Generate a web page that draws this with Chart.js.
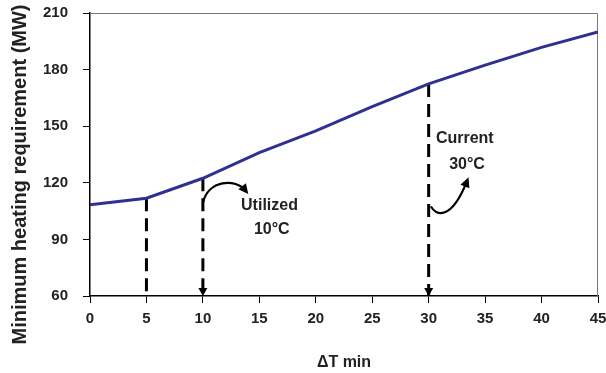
<!DOCTYPE html>
<html>
<head>
<meta charset="utf-8">
<script src="https://cdn.jsdelivr.net/npm/chart.js@4.4.0/dist/chart.umd.min.js"></script>
<style>
  html, body { margin: 0; padding: 0; background: #fff; }
  #wrap { width: 606px; height: 373px; }
</style>
</head>
<body>
<div id="wrap"><canvas id="chart"></canvas></div>
<script>
// ΔT min (x) and minimum heating requirement in MW (y)
const deltaT = [0, 5, 10, 15, 20, 25, 30, 35, 40, 45];
const heating = [108.3, 111.8, 122.4, 136, 147.5, 160.4, 172.4, 182.4, 191.8, 200];

// dashed drop lines from the curve down to the x axis
const dropX = [5, 10, 30];
const dropTop = [111.8, 122.4, 172.4];
const dropArrow = [false, true, true];

// axis ranges
const xRange = [0, 45];
const yRange = [60, 210];

const FONT = "'Liberation Sans', Arial, sans-serif";
const INK = '#222';

const datasets = [{
    data: deltaT.map((x, i) => ({ x: x, y: heating[i] })),
    borderColor: '#2e3192',
    borderWidth: 3,
    pointRadius: 0,
    tension: 0,
    order: 0
}];

dropX.forEach((x, i) => {
    datasets.push({
        data: [{ x: x, y: dropTop[i] }, { x: x, y: yRange[0] }],
        borderColor: '#000',
        borderWidth: 3,
        borderDash: [13, 7],
        pointRadius: 0,
        order: 1
    });
});

// frame on top/right, arrowheads on the drop lines, notes with curved arrows
const extras = {
    id: 'extras',
    beforeDatasetsDraw(chart) {
        const { ctx, chartArea: a } = chart;
        ctx.save();
        ctx.strokeStyle = '#777';
        ctx.lineWidth = 1;
        ctx.beginPath();
        ctx.moveTo(a.left, a.top + 0.5);
        ctx.lineTo(a.right - 0.5, a.top + 0.5);
        ctx.lineTo(a.right - 0.5, a.bottom);
        ctx.stroke();

        // y axis title, sits a bit below the middle of the axis in the original
        ctx.fillStyle = INK;
        ctx.font = 'bold 20px ' + FONT;
        ctx.textAlign = 'center';
        ctx.textBaseline = 'middle';
        ctx.translate(20, (a.top + a.bottom) / 2 + 20);
        ctx.rotate(-Math.PI / 2);
        ctx.fillText('Minimum heating requirement (MW)', 0, 0);
        ctx.restore();
    },
    afterDatasetsDraw(chart) {
        const { ctx, scales: { x, y } } = chart;
        const px = v => x.getPixelForValue(v);
        const py = v => y.getPixelForValue(v);
        ctx.save();
        ctx.fillStyle = '#000';

        // arrow tips on the axis
        dropX.forEach((v, i) => {
            if (!dropArrow[i]) return;
            const cx = px(v), by = py(yRange[0]);
            ctx.beginPath();
            ctx.moveTo(cx, by);
            ctx.lineTo(cx - 4.5, by - 8);
            ctx.lineTo(cx + 4.5, by - 8);
            ctx.closePath();
            ctx.fill();
        });

        function curvedArrow(p) {
            const pts = p.map(q => [px(q[0]), py(q[1])]);
            ctx.strokeStyle = '#000';
            ctx.lineWidth = 2.2;
            ctx.beginPath();
            ctx.moveTo(pts[0][0], pts[0][1]);
            ctx.bezierCurveTo(pts[1][0], pts[1][1], pts[2][0], pts[2][1], pts[3][0], pts[3][1]);
            ctx.stroke();
            const ang = Math.atan2(pts[3][1] - pts[2][1], pts[3][0] - pts[2][0]);
            const tx = pts[3][0] + Math.cos(ang) * 4, ty = pts[3][1] + Math.sin(ang) * 4;
            ctx.beginPath();
            ctx.moveTo(tx, ty);
            ctx.lineTo(tx - Math.cos(ang - 0.45) * 11, ty - Math.sin(ang - 0.45) * 11);
            ctx.lineTo(tx - Math.cos(ang + 0.45) * 11, ty - Math.sin(ang + 0.45) * 11);
            ctx.closePath();
            ctx.fill();
        }
        curvedArrow([[10, 109.3], [10.45, 121.5], [12.9, 122.6], [13.8, 115.7]]);
        curvedArrow([[30.2, 107.5], [30.6, 102.6], [32, 99.5], [33.4, 121]]);

        ctx.fillStyle = INK;
        ctx.font = 'bold 16px ' + FONT;
        ctx.textAlign = 'center';
        ctx.textBaseline = 'middle';
        ctx.fillText('Utilized', px(15.9), py(107.7));
        ctx.fillText('10°C', px(16.1), py(95));
        ctx.fillText('Current', px(33.2), py(143.2));
        ctx.fillText('30°C', px(33.4), py(129.5));
        ctx.restore();
    }
};

const tickFont = { family: FONT, size: 15, weight: 'bold' };

new Chart(document.getElementById('chart'), {
    type: 'line',
    data: { datasets: datasets },
    plugins: [extras],
    options: {
        responsive: true,
        maintainAspectRatio: false,
        animation: false,
        layout: { padding: { top: 13, right: 8, left: 0, bottom: 0 } },
        plugins: {
            legend: { display: false },
            tooltip: { enabled: false }
        },
        scales: {
            x: {
                type: 'linear',
                min: xRange[0],
                max: xRange[1],
                afterFit: s => { s.height = 77; s.paddingLeft = 0; s.paddingRight = 0; },
                ticks: { stepSize: 5, color: INK, font: tickFont, padding: 7, maxRotation: 0 },
                grid: { drawOnChartArea: false, drawTicks: true, tickLength: 7, color: '#000' },
                border: { color: '#000', width: 1.5 },
                title: {
                    display: true,
                    text: 'ΔT min',
                    color: INK,
                    font: { family: FONT, size: 16, weight: 'bold' },
                    padding: { top: 0, bottom: 1 }
                }
            },
            y: {
                min: yRange[0],
                max: yRange[1],
                afterFit: s => { s.width = 90; s.paddingTop = 0; s.paddingBottom = 0; },
                ticks: { stepSize: 30, color: INK, font: tickFont, padding: 15 },
                grid: { drawOnChartArea: false, drawTicks: true, tickLength: 7, color: '#000' },
                border: { color: '#000', width: 1.5 }
            }
        }
    }
});
</script>
</body>
</html>
